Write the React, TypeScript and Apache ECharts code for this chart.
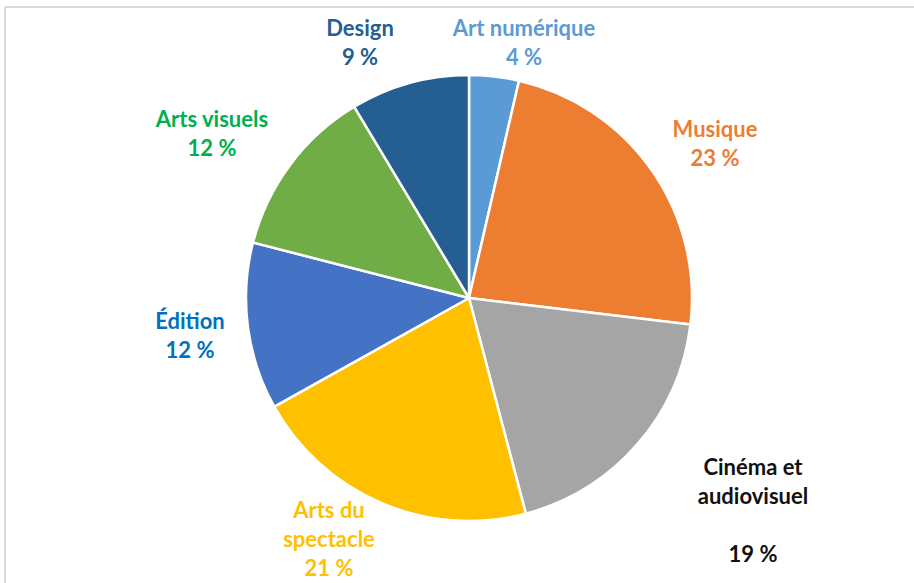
import React, { useEffect, useRef } from "react";
import * as echarts from "echarts";

const categories = [
  "Art numérique",
  "Musique",
  "Cinéma et audiovisuel",
  "Arts du spectacle",
  "Édition",
  "Arts visuels",
  "Design",
];
const labelTexts = [
  "Art numérique",
  "Musique",
  "Cinéma et\naudiovisuel\n",
  "Arts du\nspectacle",
  "Édition",
  "Arts visuels",
  "Design",
];
const shares = [3.6, 23.3, 19.0, 21.0, 12.1, 12.4, 8.6];
const sliceColors = ["#5B9BD5", "#ED7D31", "#A5A5A5", "#FFC000", "#4472C4", "#70AD47", "#255E91"];
const labelColors = ["#5B9BD5", "#ED7D31", "#111111", "#FFC000", "#0070C0", "#00B050", "#255E91"];
// label anchor (centre x, top y) per slice, in pixels
const labelAnchors: [number, number][] = [
  [524, 13],
  [715, 114],
  [753, 452],
  [329, 495],
  [190, 306],
  [212, 104],
  [360, 13],
];

export default function App() {
  const ref = useRef<HTMLDivElement>(null);
  useEffect(() => {
    if (!ref.current) return;
    const chart = echarts.init(ref.current, null, { renderer: "svg" });
    chart.setOption({
      animation: false,
      backgroundColor: "#ffffff",
      graphic: [
        { type: "line", shape: { x1: 5, y1: 7, x2: 914, y2: 7 }, style: { stroke: "#d9d9d9", lineWidth: 2 } },
        { type: "line", shape: { x1: 5, y1: 7, x2: 5, y2: 583 }, style: { stroke: "#d9d9d9", lineWidth: 2 } },
      ],
      series: [
        {
          type: "pie",
          center: [469, 298],
          radius: 223,
          startAngle: 90,
          clockwise: true,
          itemStyle: { borderColor: "#ffffff", borderWidth: 2.5 },
          labelLine: { show: false },
          label: {
            show: true,
            position: "outside",
            fontFamily: "Lato",
            fontWeight: "bold",
            fontSize: 22,
            lineHeight: 29,
            align: "center",
          },
          labelLayout: (params: any) => {
            const a = labelAnchors[params.dataIndex];
            return { x: a[0], y: a[1], align: "center", verticalAlign: "top" };
          },
          data: categories.map((name, i) => ({
            name,
            value: shares[i],
            itemStyle: { color: sliceColors[i] },
            label: {
              color: labelColors[i],
              formatter: () => labelTexts[i] + "\n" + Math.round(shares[i]) + " %",
            },
          })),
        },
      ],
    });
    return () => chart.dispose();
  }, []);
  return (
    <div
      ref={ref}
      style={{ position: "fixed", left: 0, top: 0, width: 914, height: 583 }}
    />
  );
}
